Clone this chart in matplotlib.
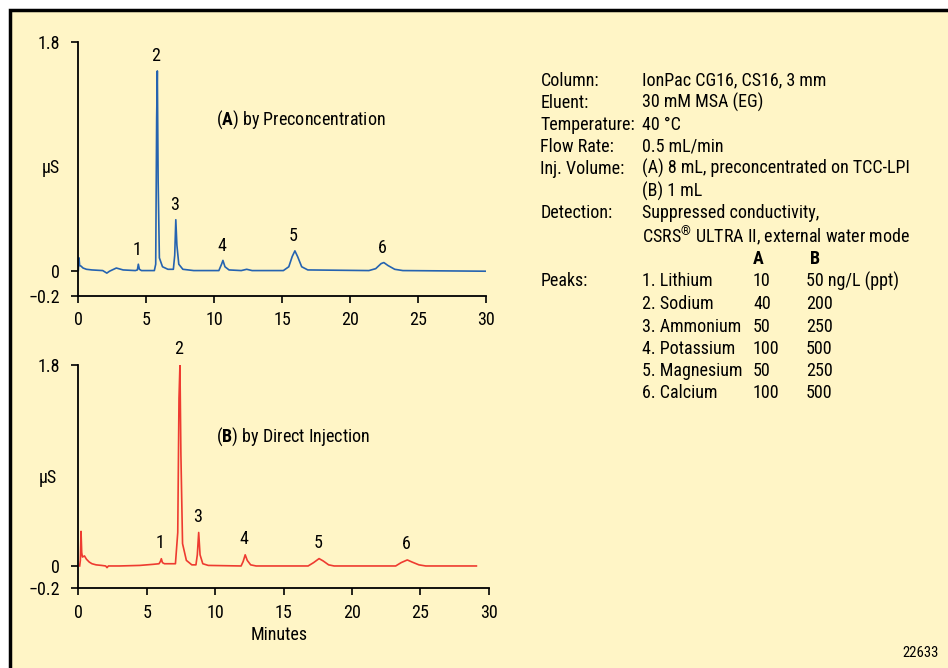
import numpy as np
import matplotlib
matplotlib.use('Agg')
import matplotlib.pyplot as plt
from matplotlib import font_manager as fm
from matplotlib.patches import Rectangle

installed = set(f.name for f in fm.fontManager.ttflist)
font = next(n for n in ['Roboto Condensed', 'Archivo Narrow', 'Liberation Sans Narrow',
                        'Barlow Semi Condensed', 'DejaVu Sans'] if n in installed)
plt.rcParams['font.family'] = [font, 'DejaVu Sans']
plt.rcParams['mathtext.fontset'] = 'custom'
plt.rcParams['mathtext.rm'] = font
plt.rcParams['mathtext.bf'] = font + ':bold'

# trace A: preconcentration (minutes, uS)
tA = [0.0, 0.05, 0.1, 0.2, 0.35, 0.6, 1.0, 1.8, 2.1, 2.3, 2.8, 3.3, 4.2, 4.35, 4.42, 4.5, 4.65,
      5.6, 5.7, 5.77, 5.82, 5.88, 5.97, 6.2, 6.6, 7.0, 7.1, 7.18, 7.26, 7.4, 7.7, 8.5,
      10.35, 10.55, 10.65, 10.8, 11.1, 12.0, 12.4, 12.8, 15.1, 15.5, 15.75, 15.95, 16.15,
      16.45, 16.9, 21.4, 21.9, 22.3, 22.5, 22.8, 23.3, 23.9, 30.0]
yA = [0.0, 0.1, 0.04, 0.035, 0.02, 0.01, 0.005, 0.0, -0.02, -0.005, 0.02, 0.005, 0.0, 0.005, 0.05, 0.01, 0.0,
      0.0, 0.05, 1.2, 1.57, 0.7, 0.1, 0.03, 0.01, 0.01, 0.12, 0.40, 0.2, 0.05, 0.01, 0.0,
      0.0, 0.05, 0.08, 0.03, 0.005, 0.0, 0.01, 0.0, 0.0, 0.03, 0.11, 0.155, 0.11,
      0.03, 0.005, 0.0, 0.015, 0.055, 0.063, 0.04, 0.01, 0.0, -0.005]

# trace B: direct injection
tB = [0.1, 0.15, 0.2, 0.25, 0.3, 0.45, 0.6, 0.8, 1.0, 1.3, 1.7, 2.0, 2.1, 2.2, 3.0, 4.5, 5.5,
      5.9, 6.0, 6.07, 6.15, 6.3, 7.1, 7.27, 7.36, 7.43, 7.5, 7.62, 7.9, 8.3, 8.6, 8.7, 8.8,
      8.9, 9.1, 9.5, 11.9, 12.05, 12.2, 12.35, 12.6, 13.0, 16.8, 17.2, 17.6, 17.9, 18.3, 18.7,
      23.2, 23.6, 24.05, 24.4, 24.9, 25.4, 29.1]
yB = [0.0, 0.05, 0.31, 0.12, 0.08, 0.09, 0.06, 0.035, 0.02, 0.01, 0.005, 0.0, -0.015, 0.0, 0.0, 0.005, 0.015,
      0.02, 0.04, 0.065, 0.03, 0.02, 0.02, 0.3, 1.5, 1.8, 1.0, 0.2, 0.05, 0.01, 0.01, 0.1, 0.30,
      0.1, 0.02, 0.005, 0.0, 0.04, 0.10, 0.05, 0.01, 0.0, 0.0, 0.03, 0.066, 0.045, 0.01, 0.0,
      0.0, 0.03, 0.054, 0.035, 0.01, 0.0, 0.0]

peak_labels = ['1', '2', '3', '4', '5', '6']
peaksA_t = [4.42, 5.82, 7.18, 10.65, 15.95, 22.5]
peaksA_y = [0.05, 1.57, 0.40, 0.08, 0.155, 0.063]
peaksB_t = [6.07, 7.43, 8.8, 12.2, 17.6, 24.05]
peaksB_y = [0.065, 1.8, 0.30, 0.10, 0.066, 0.054]

cond_labels = ['Column:', 'Eluent:', 'Temperature:', 'Flow Rate:', 'Inj. Volume:', '', 'Detection:', '']
cond_values = ['IonPac CG16, CS16, 3 mm', '30 mM MSA (EG)', '40 °C', '0.5 mL/min',
               '(A) 8 mL, preconcentrated on TCC-LPI', '(B) 1 mL', 'Suppressed conductivity,',
               r'CSRS$^{®}$ ULTRA II, external water mode']
peak_names = ['1. Lithium', '2. Sodium', '3. Ammonium', '4. Potassium', '5. Magnesium', '6. Calcium']
conc_A = ['10', '40', '50', '100', '50', '100']
conc_B = ['50 ng/L (ppt)', '200', '250', '500', '250', '500']

bg = '#FFF5C6'
W, H = 948, 668
fig = plt.figure(figsize=(9.48, 6.68), dpi=100, facecolor='white')
fig.patches.append(Rectangle((10 / W, -0.05), 1.0, 1 - 10 / H + 0.05, transform=fig.transFigure,
                             facecolor=bg, edgecolor='black', linewidth=2.5, zorder=-10))

def fx(px):
    return px / W

def fy(py):
    return 1 - py / H

def setup(ax):
    ax.set_facecolor('none')
    for s in ['top', 'right']:
        ax.spines[s].set_visible(False)
    for s in ['left', 'bottom']:
        ax.spines[s].set_linewidth(1.3)
    ax.set_xlim(0, 30)
    ax.set_ylim(-0.2, 1.8)
    ax.set_xticks([0, 5, 10, 15, 20, 25, 30])
    ax.set_yticks([-0.2, 0, 1.8])
    ax.set_yticklabels(['\u22120.2', '0', '1.8'])
    ax.tick_params(direction='out', length=5, width=1.2, labelsize=13)
    ax.tick_params(axis='y', pad=8)
    ax.tick_params(axis='x', pad=6)

axA = fig.add_axes([fx(78.3), fy(296), (485.7 - 78.3) / W, (296 - 41.7) / H])
setup(axA)
axA.plot(tA, yA, color='#2563B0', linewidth=1.2)
for lab, t, y in zip(peak_labels, peaksA_t, peaksA_y):
    axA.annotate(lab, (t, y), xytext=(-1, 4), textcoords='offset points', ha='center', va='bottom', fontsize=13)

axB = fig.add_axes([fx(78.3), fy(588.3), (488.7 - 78.3) / W, (588.3 - 365) / H])
setup(axB)
axB.plot(tB, yB, color='#EE3B30', linewidth=1.2)
for lab, t, y in zip(peak_labels, peaksB_t, peaksB_y):
    axB.annotate(lab, (t, y), xytext=(-1, 5), textcoords='offset points', ha='center', va='bottom', fontsize=13)

fig.text(fx(216), fy(120), r'($\mathbf{A}$) by Preconcentration', fontsize=13, va='center')
fig.text(fx(216), fy(437), r'($\mathbf{B}$) by Direct Injection', fontsize=13, va='center')
fig.text(fx(51), fy(168), 'µS', fontsize=13, ha='center', va='center')
fig.text(fx(48), fy(478), 'µS', fontsize=13, ha='center', va='center')
fig.text(fx(279), fy(635), 'Minutes', fontsize=13, ha='center', va='center')
fig.text(fx(939), fy(653), '22633', fontsize=10.5, ha='right', va='center')

# conditions block
row_y = [80.7, 102.5, 124.5, 146.5, 168.5, 191, 213.5, 236]
for lab, val, y in zip(cond_labels, cond_values, row_y):
    fig.text(fx(540.5), fy(y), lab, fontsize=13, va='center')
    fig.text(fx(641.5), fy(y), val, fontsize=13, va='center')

fig.text(fx(753), fy(259), 'A', fontsize=13, fontweight='bold', va='center')
fig.text(fx(810), fy(259), 'B', fontsize=13, fontweight='bold', va='center')
fig.text(fx(540.5), fy(281.5), 'Peaks:', fontsize=13, va='center')
peak_y = [281.5, 304, 326.5, 348.5, 371, 393]
for name, a, b, y in zip(peak_names, conc_A, conc_B, peak_y):
    fig.text(fx(641.5), fy(y), name, fontsize=13, va='center')
    fig.text(fx(753), fy(y), a, fontsize=13, va='center')
    fig.text(fx(806), fy(y), b, fontsize=13, va='center')

fig.savefig('out.png', dpi=100, facecolor='white')
